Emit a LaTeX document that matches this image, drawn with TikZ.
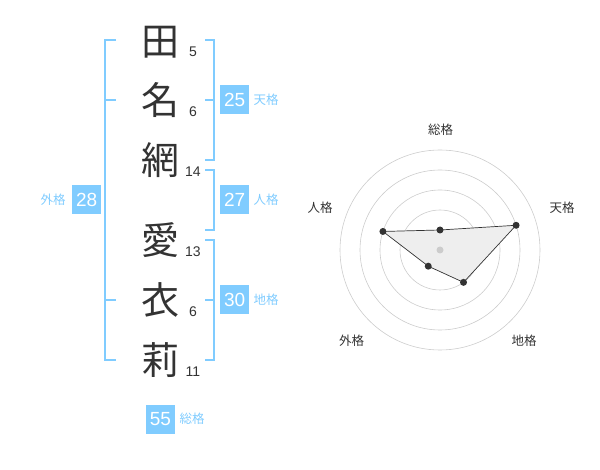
\documentclass[tikz,border=0pt]{standalone}
\usepackage{fontspec}
\setmainfont{Liberation Sans}
\newfontfamily\jp{Noto Sans CJK JP}
\definecolor{skyb}{HTML}{80CCFF}
\definecolor{ink}{HTML}{333333}
\definecolor{ringc}{HTML}{CCCCCC}
\definecolor{polyf}{HTML}{EEEEEE}
\begin{document}
\begin{tikzpicture}[x=1pt,y=-1pt,
  kanji/.style={font=\jp\fontsize{38}{38}\selectfont, text=ink, inner sep=0pt},
  strokes/.style={font=\fontsize{14}{14}\selectfont, text=ink, inner sep=0pt},
  numbox/.style={fill=skyb, text=white, minimum size=29pt, inner sep=0pt, font=\fontsize{19}{19}\selectfont},
  kaku/.style={font=\jp\fontsize{12.5}{12.5}\selectfont, text=skyb, inner sep=0pt},
  brk/.style={draw=skyb, line width=2pt},
  ring/.style={draw=ringc, line width=0.6pt},
  dot/.style={circle, fill=ink, minimum size=7pt, inner sep=0pt},
  axl/.style={font=\jp\fontsize{12.5}{12.5}\selectfont, text=ink, inner sep=0pt},
  poly/.style={draw=ink, line width=0.7pt, fill=polyf}
]
\useasboundingbox (0,0) rectangle (600,470);
% characters
\node[kanji] (k1) at (160,42) {田};
\node[kanji] (k2) at (160,100) {名};
\node[kanji] (k3) at (160,160) {網};
\node[kanji] (k4) at (160,240) {愛};
\node[kanji] (k5) at (160,300) {衣};
\node[kanji] (k6) at (160,360) {莉};
% stroke counts
\node[strokes] (s1) at (193,52) {5};
\node[strokes] (s2) at (193,112) {6};
\node[strokes] (s3) at (193,172) {14};
\node[strokes] (s4) at (193,252) {13};
\node[strokes] (s5) at (193,312) {6};
\node[strokes] (s6) at (193,372) {11};
% brackets
\draw[brk] (116,40) -- (105,40) -- (105,360) -- (116,360);
\draw[brk] (105,100) -- (116,100);
\draw[brk] (105,300) -- (116,300);
\draw[brk] (205,40) -- (214,40) -- (214,160) -- (205,160);
\draw[brk] (205,100) -- (214,100);
\draw[brk] (205,170) -- (214,170) -- (214,230) -- (205,230);
\draw[brk] (205,240) -- (214,240) -- (214,360) -- (205,360);
\draw[brk] (205,300) -- (214,300);
% totals
\node[numbox] (b25) at (234.7,100) {25};
\node[kaku] (l25) at (266,100) {天格};
\node[numbox] (b27) at (234.7,200) {27};
\node[kaku] (l27) at (266,200) {人格};
\node[numbox] (b30) at (234.7,300) {30};
\node[kaku] (l30) at (266,300) {地格};
\node[numbox] (b28) at (86.7,200) {28};
\node[kaku] (l28) at (53,200) {外格};
\node[numbox] (b55) at (160.5,419) {55};
\node[kaku] (l55) at (192,419) {総格};
% radar
\begin{scope}[shift={(440,250)}, yscale=-1]
  \foreach \r in {20,40,60,80,100} \draw[ring] (0,0) circle (\r);
  \coordinate (c1) at (90:20);
  \coordinate (c2) at (18:80);
  \coordinate (c3) at (-54:40);
  \coordinate (c4) at (234:20);
  \coordinate (c5) at (162:60);
  \draw[poly] (c1) -- (c2) -- (c3) -- (c4) -- (c5) -- cycle;
  \node[circle, fill=ringc, minimum size=7pt, inner sep=0pt] (ctr) at (0,0) {};
  \foreach \i in {1,...,5} \node[dot] (d\i) at (c\i) {};
\end{scope}
\node[axl] (a1) at (440.7,130) {総格};
\node[axl] (a2) at (562,208) {天格};
\node[axl] (a3) at (524,341) {地格};
\node[axl] (a4) at (351.7,341) {外格};
\node[axl] (a5) at (320,208) {人格};
\end{tikzpicture}
\end{document}
